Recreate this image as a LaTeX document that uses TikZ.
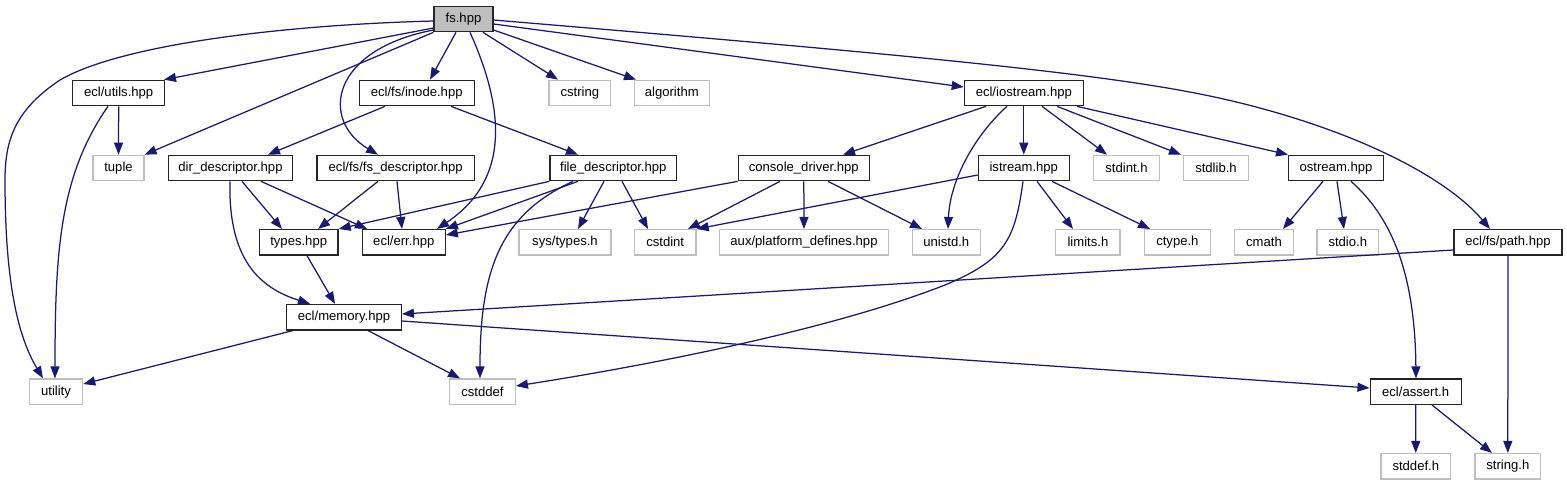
\documentclass[tikz,border=0pt]{standalone}
\usepackage{fontspec}
\setmainfont{Liberation Sans}
\usetikzlibrary{arrows.meta}
\definecolor{edgeblue}{HTML}{191970}
\definecolor{boxgray}{HTML}{BFBFBF}

\begin{document}
\begin{tikzpicture}[x=1pt, y=-1pt,
	every node/.style={font=\fontsize{13.1pt}{15pt}\selectfont, minimum height=25.5pt, inner xsep=1pt, line width=1.2pt},
	hdr/.style={draw=black!85},
	ext/.style={draw=boxgray},
	inc/.style={draw=edgeblue, line width=1.25pt, -{Triangle[length=12pt, width=9pt]}}]
	\useasboundingbox (0,0) rectangle (1567,485);
	\node[hdr, fill=boxgray, minimum width=59pt] (fs) at (463.5,19) {fs.hpp};
	\node[hdr, minimum width=92pt] (utils) at (118.7,93) {ecl/utils.hpp};
	\node[hdr, minimum width=115pt] (inode) at (416.7,93) {ecl/fs/inode.hpp};
	\node[ext, minimum width=61.7pt] (cstring) at (579.8,93) {cstring};
	\node[ext, minimum width=75pt] (algorithm) at (671.8,93) {algorithm};
	\node[hdr, minimum width=119pt] (iostream) at (1023.8,93) {ecl/iostream.hpp};
	\node[ext, minimum width=51pt] (tuple) at (118.5,168) {tuple};
	\node[hdr, minimum width=124.4pt] (dir) at (230.5,168) {dir\_descriptor.hpp};
	\node[hdr, minimum width=157.3pt] (fsd) at (395.7,168) {ecl/fs/fs\_descriptor.hpp};
	\node[hdr, minimum width=126.7pt] (fd) at (613.3,168) {file\_descriptor.hpp};
	\node[hdr, minimum width=131pt] (cd) at (803.8,168) {console\_driver.hpp};
	\node[hdr, minimum width=91pt] (istream) at (1023.8,168) {istream.hpp};
	\node[ext, minimum width=66pt] (stdint) at (1126.5,168) {stdint.h};
	\node[ext, minimum width=64.4pt] (stdlib) at (1216,168) {stdlib.h};
	\node[hdr, minimum width=94.8pt] (ostream) at (1336,168) {ostream.hpp};
	\node[hdr, minimum width=78.7pt] (types) at (298.7,242.3) {types.hpp};
	\node[hdr, minimum width=83pt] (err) at (403.8,242.3) {ecl/err.hpp};
	\node[ext, minimum width=92pt] (systypes) at (565,242.3) {sys/types.h};
	\node[ext, minimum width=61.7pt] (cstdint) at (665.2,242.3) {cstdint};
	\node[ext, minimum width=168.7pt] (aux) at (804,242.3) {aux/platform\_defines.hpp};
	\node[ext, minimum width=68.2pt] (unistd) at (946.3,242.3) {unistd.h};
	\node[ext, minimum width=64.3pt] (limits) at (1087.9,242.3) {limits.h};
	\node[ext, minimum width=65.4pt] (ctype) at (1177.4,242.3) {ctype.h};
	\node[ext, minimum width=59pt] (cmath) at (1264,242.3) {cmath};
	\node[ext, minimum width=61.6pt] (stdio) at (1347.8,242.3) {stdio.h};
	\node[hdr, minimum width=108pt] (path) at (1508,242.3) {ecl/fs/path.hpp};
	\node[hdr, minimum width=114.7pt] (memory) at (344,317.2) {ecl/memory.hpp};
	\node[ext, minimum width=53.4pt] (utility) at (56,391.7) {utility};
	\node[ext, minimum width=65.7pt] (cstddef) at (482.5,391.7) {cstddef};
	\node[hdr, minimum width=91pt] (assert) at (1415.6,391.7) {ecl/assert.h};
	\node[ext, minimum width=69.5pt] (stddef) at (1415.8,466.3) {stddef.h};
	\node[ext, minimum width=65.7pt] (string) at (1507.8,466.3) {string.h};

	\draw[inc] (fs.west |- 0,21) .. controls (280,25) and (120,45) .. (60,80) .. controls (15,110) and (5,140) .. (5,180) .. controls (5,290) and (20,340) .. (utility.north -| 43,0);
	\draw[inc] (fs.west |- 0,28) -- (utils.north -| 164,0);
	\draw[inc] (fs.south west) -- (tuple.north east);
	\draw[inc] (fs.west |- 0,30) .. controls (330,50) and (320,120) .. (fsd.north -| 378,0);
	\draw[inc] (fs.south -| 456,0) -- (inode.north -| 430,0);
	\draw[inc] (fs.south -| 470,0) .. controls (505,110) and (510,180) .. (err.north -| 437,0);
	\draw[inc] (fs.south -| 483,0) -- (cstring.north -| 558,0);
	\draw[inc] (fs.east |- 0,30) -- (algorithm.north -| 636,0);
	\draw[inc] (fs.east |- 0,24) -- (iostream.west |- 0,87);
	\draw[inc] (fs.east |- 0,20) .. controls (850,50) and (1080,70) .. (1200,94) .. controls (1330,120) and (1440,170) .. (path.north -| 1490,0);
	\draw[inc] (utils) -- (tuple);
	\draw[inc] (utils.south -| 108,0) .. controls (60,175) and (55,250) .. (utility.north -| 55,0);
	\draw[inc] (inode.south -| 385,0) -- (dir.north -| 268,0);
	\draw[inc] (inode.south -| 451,0) -- (fd.north -| 578,0);
	\draw[inc] (dir.south -| 242,0) -- (types.north -| 282,0);
	\draw[inc] (dir.south -| 261,0) -- (err.north -| 367,0);
	\draw[inc] (dir.south -| 230,0) .. controls (228,260) and (260,288) .. (memory.north -| 310,0);
	\draw[inc] (fsd.south -| 378,0) -- (types.north -| 318,0);
	\draw[inc] (fsd.south -| 397,0) -- (err.north -| 402,0);
	\draw[inc] (fd.south west) -- (types.north east);
	\draw[inc] (fd.south -| 578,0) -- (err.north east);
	\draw[inc] (fd.south -| 573,0) .. controls (500,215) and (480,270) .. (cstddef.north -| 480,0);
	\draw[inc] (fd.south -| 604,0) -- (systypes.north -| 578,0);
	\draw[inc] (fd.south -| 622,0) -- (cstdint.north -| 648,0);
	\draw[inc] (cd.south west) -- (err.east |- 0,235);
	\draw[inc] (cd.south -| 780,0) -- (cstdint.north -| 688,0);
	\draw[inc] (cd) -- (aux);
	\draw[inc] (cd.south -| 828,0) -- (unistd.north -| 922,0);
	\draw[inc] (iostream.south -| 986,0) -- (cd.north -| 843,0);
	\draw[inc] (iostream.south -| 1007,0) .. controls (975,135) and (950,180) .. (unistd.north -| 948,0);
	\draw[inc] (iostream) -- (istream);
	\draw[inc] (iostream.south -| 1042,0) -- (stdint.north -| 1107,0);
	\draw[inc] (iostream.south -| 1057,0) -- (stdlib.north -| 1181,0);
	\draw[inc] (iostream.south -| 1077,0) -- (ostream.north west);
	\draw[inc] (istream.west |- 0,175) -- (cstdint.north east);
	\draw[inc] (istream.south -| 1037,0) -- (limits.north -| 1073,0);
	\draw[inc] (istream.south -| 1052,0) -- (ctype.north -| 1150,0);
	\draw[inc] (istream.south -| 1023,0) .. controls (1015,240) and (1005,260) .. (945,285) .. controls (830,330) and (650,365) .. (cstddef.east |- 0,386);
	\draw[inc] (ostream.south -| 1323,0) -- (cmath.north -| 1283,0);
	\draw[inc] (ostream.south -| 1337,0) -- (stdio.north -| 1344,0);
	\draw[inc] (ostream.south -| 1351,0) .. controls (1395,220) and (1415,280) .. (assert.north -| 1416,0);
	\draw[inc] (path.west |- 0,250) -- (memory.east |- 0,314);
	\draw[inc] (path) -- (string);
	\draw[inc] (types.south -| 307,0) -- (memory.north -| 335,0);
	\draw[inc] (memory.south -| 293,0) -- (utility.east |- 0,384);
	\draw[inc] (memory.south -| 368,0) -- (cstddef.north -| 460,0);
	\draw[inc] (memory.east |- 0,321) -- (assert.west |- 0,388);
	\draw[inc] (assert) -- (stddef);
	\draw[inc] (assert.south -| 1432,0) -- (string.north -| 1492,0);
\end{tikzpicture}
\end{document}
